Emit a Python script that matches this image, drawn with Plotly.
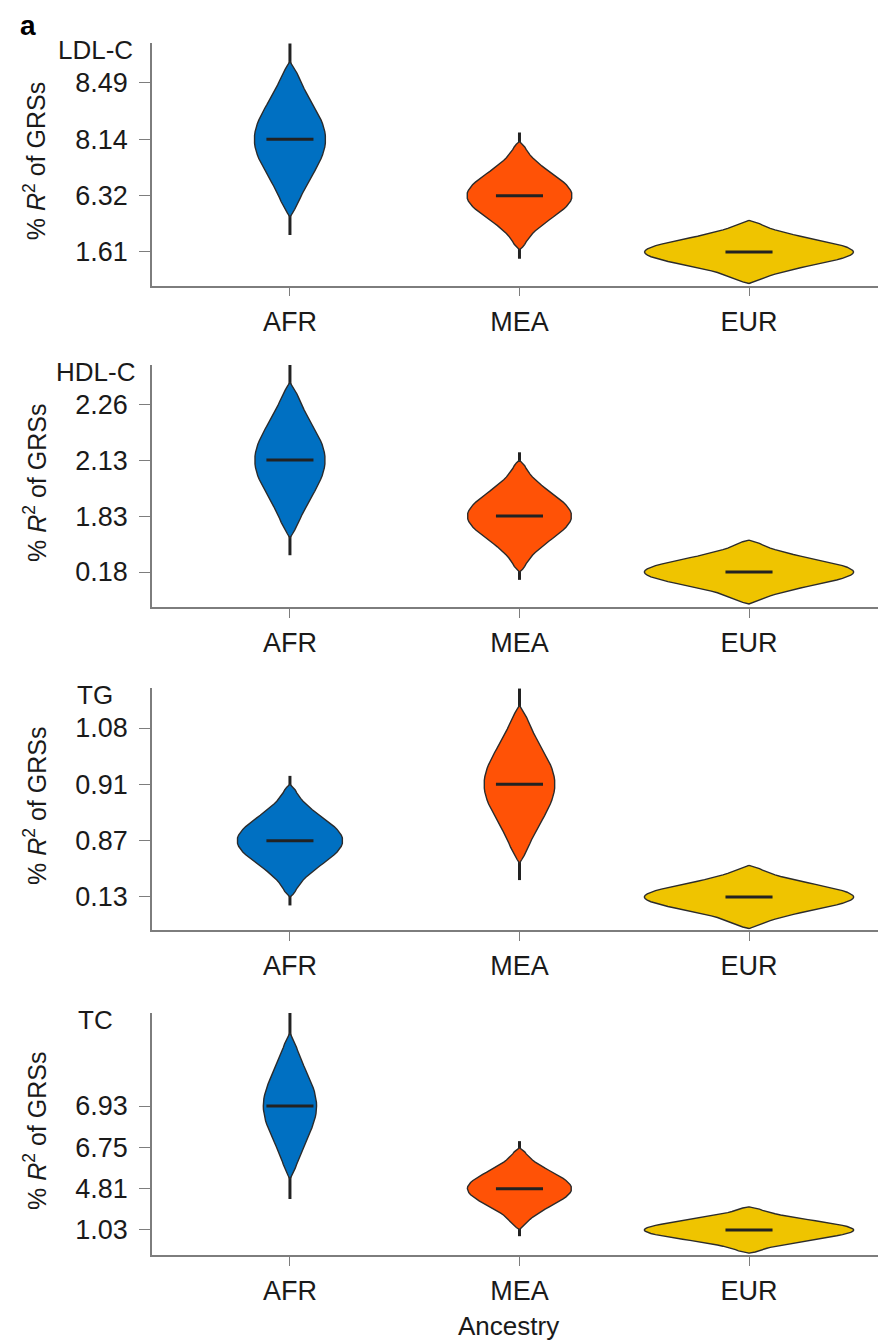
import plotly.graph_objects as go

W, H = 878, 1342

# ---- data -------------------------------------------------------------
ANCESTRY = ["AFR", "MEA", "EUR"]
COLORS = ["#0070C2", "#FF5206", "#EFC400"]
TRAITS = ["LDL-C", "HDL-C", "TG", "TC"]

# y tick labels (bottom to top) for each trait
LDL_TICKS = ["1.61", "6.32", "8.14", "8.49"]
HDL_TICKS = ["0.18", "1.83", "2.13", "2.26"]
TG_TICKS = ["0.13", "0.87", "0.91", "1.08"]
TC_TICKS = ["1.03", "4.81", "6.75", "6.93"]

# median % R2 per ancestry (AFR, MEA, EUR)
LDL_MEDIAN = ["8.14", "6.32", "1.61"]
HDL_MEDIAN = ["2.13", "1.83", "0.18"]
TG_MEDIAN = ["0.87", "0.91", "0.13"]
TC_MEDIAN = ["6.93", "4.81", "1.03"]

# half-extent of each violin body and of its whisker (tick-rank units)
LDL_BODY = [1.38, 0.96, 0.56]
HDL_BODY = [1.39, 1.00, 0.57]
TG_BODY = [1.00, 1.40, 0.56]
TC_BODY = [1.77, 0.99, 0.56]

LDL_WHISKER = [1.70, 1.12, 0.56]
HDL_WHISKER = [1.70, 1.14, 0.57]
TG_WHISKER = [1.15, 1.70, 0.56]
TC_WHISKER = [2.25, 1.15, 0.56]

# maximal half-width of each violin (category units)
LDL_WIDTH = [0.155, 0.229, 0.455]
HDL_WIDTH = [0.153, 0.227, 0.456]
TG_WIDTH = [0.230, 0.154, 0.456]
TC_WIDTH = [0.116, 0.227, 0.456]

# outline family of each violin: 0 = compact, 1 = elongated
LDL_SHAPE = [1, 0, 0]
HDL_SHAPE = [1, 0, 0]
TG_SHAPE = [0, 1, 0]
TC_SHAPE = [1, 0, 0]

# violin outlines: relative half-width at relative distance from the median
PROFILE_T = [0.0, 0.05, 0.10, 0.15, 0.20, 0.25, 0.30, 0.35, 0.40, 0.45, 0.50,
             0.55, 0.60, 0.65, 0.70, 0.75, 0.80, 0.85, 0.90, 0.95, 1.0]
COMPACT_W = [1.0, 0.993, 0.972, 0.938, 0.893, 0.838, 0.775, 0.707, 0.635, 0.563, 0.492,
             0.424, 0.360, 0.302, 0.249, 0.203, 0.163, 0.129, 0.100, 0.060, 0.0]
ELONGATED_W = [1.0, 0.995, 0.979, 0.952, 0.917, 0.873, 0.823, 0.766, 0.707, 0.644, 0.581,
               0.519, 0.458, 0.400, 0.345, 0.295, 0.249, 0.200, 0.135, 0.070, 0.0]
PROFILES = [COMPACT_W, ELONGATED_W]

PANELS = [
    (LDL_TICKS, LDL_MEDIAN, LDL_BODY, LDL_WHISKER, LDL_WIDTH, LDL_SHAPE),
    (HDL_TICKS, HDL_MEDIAN, HDL_BODY, HDL_WHISKER, HDL_WIDTH, HDL_SHAPE),
    (TG_TICKS, TG_MEDIAN, TG_BODY, TG_WHISKER, TG_WIDTH, TG_SHAPE),
    (TC_TICKS, TC_MEDIAN, TC_BODY, TC_WHISKER, TC_WIDTH, TC_SHAPE),
]

# ---- layout geometry (pixels) ----------------------------------------
PANEL_PX = [(43, 285.5), (365, 607), (688, 930), (1013, 1255)]
Y_RANGES = [(0.405, 4.71), (0.375, 4.70), (0.414, 4.71), (0.395, 6.25)]
X_LEFT_PX = 152
X_RANGE = (0.399, 3.562)

FONT = "Liberation Sans, Arial, sans-serif"
INK = "#1a1a1a"
AXIS_GREY = "#7d7d7d"
MEDIAN_HALF = 0.1025


def py(p):
    return 1 - p / H


fig = go.Figure()
layout = dict(
    width=W, height=H, margin=dict(l=0, r=0, t=0, b=0),
    paper_bgcolor="white", plot_bgcolor="white", showlegend=False,
    font=dict(family=FONT, color=INK),
)
annotations = []

for i, (ticks, medians, bodies, whiskers, widths, shapes) in enumerate(PANELS):
    n = i + 1
    xa = "x" if n == 1 else f"x{n}"
    ya = "y" if n == 1 else f"y{n}"
    top, bot = PANEL_PX[i]

    layout[f"xaxis{'' if n == 1 else n}"] = dict(
        domain=[X_LEFT_PX / W, 1.0], range=list(X_RANGE), anchor=ya,
        tickvals=[1, 2, 3], ticktext=ANCESTRY,
        showline=True, linecolor=AXIS_GREY, linewidth=1.5,
        ticks="outside", ticklen=9, tickwidth=1.3, tickcolor=AXIS_GREY,
        showgrid=False, zeroline=False, ticklabelstandoff=2,
        tickfont=dict(family=FONT, size=27, color=INK),
    )
    layout[f"yaxis{'' if n == 1 else n}"] = dict(
        domain=[py(bot), py(top)], range=list(Y_RANGES[i]), anchor=xa,
        tickvals=list(range(1, len(ticks) + 1)), ticktext=ticks,
        showline=True, linecolor=AXIS_GREY, linewidth=1.5,
        ticks="outside", ticklen=11, tickwidth=1.3, tickcolor=AXIS_GREY,
        showgrid=False, zeroline=False, ticklabelstandoff=6,
        tickfont=dict(family=FONT, size=27, color=INK),
    )

    for j, anc in enumerate(ANCESTRY):
        xc = j + 1
        yc = ticks.index(medians[j]) + 1
        body, whisk, hw = bodies[j], whiskers[j], widths[j]
        prof = PROFILES[shapes[j]]

        # whisker under the body
        fig.add_trace(go.Scatter(
            x=[xc, xc], y=[yc - whisk, yc + whisk], mode="lines",
            line=dict(color="#222222", width=3), hoverinfo="skip",
            xaxis=xa, yaxis=ya,
        ))

        offs = [t for t in reversed(PROFILE_T)] + [-t for t in PROFILE_T[1:]]
        wids = [w for w in reversed(prof)] + prof[1:]
        xs = [xc + w * hw for w in wids] + [xc - w * hw for w in reversed(wids)]
        ys = [yc + o * body for o in offs] + [yc + o * body for o in reversed(offs)]
        fig.add_trace(go.Scatter(
            x=xs, y=ys, mode="lines", fill="toself", fillcolor=COLORS[j],
            line=dict(color="#2b2b2b", width=1.4),
            hoverinfo="skip", xaxis=xa, yaxis=ya,
        ))

        # median bar
        fig.add_trace(go.Scatter(
            x=[xc - MEDIAN_HALF, xc + MEDIAN_HALF], y=[yc, yc], mode="lines",
            line=dict(color="#222222", width=3), hoverinfo="skip",
            xaxis=xa, yaxis=ya,
        ))

    # trait name above the y axis
    annotations.append(dict(
        text=TRAITS[i], x=95 / W, y=py(top + 7), xref="paper", yref="paper",
        xanchor="center", yanchor="middle", showarrow=False,
        font=dict(family=FONT, size=26, color=INK),
    ))
    # y axis title
    annotations.append(dict(
        text="% <i>R</i><sup>2</sup> of GRSs", x=35 / W, y=py((top + bot) / 2 - 3),
        xref="paper", yref="paper", xanchor="center", yanchor="middle",
        textangle=-90, showarrow=False,
        font=dict(family=FONT, size=25, color=INK),
    ))

annotations.append(dict(
    text="Ancestry", x=508 / W, y=py(1326), xref="paper", yref="paper",
    xanchor="center", yanchor="middle", showarrow=False,
    font=dict(family=FONT, size=26, color=INK),
))
annotations.append(dict(
    text="<b>a</b>", x=18 / W, y=py(25), xref="paper", yref="paper",
    xanchor="left", yanchor="middle", showarrow=False,
    font=dict(family=FONT, size=28, color="#000000"),
))

layout["annotations"] = annotations
fig.update_layout(**layout)
fig.write_html("out.html")
